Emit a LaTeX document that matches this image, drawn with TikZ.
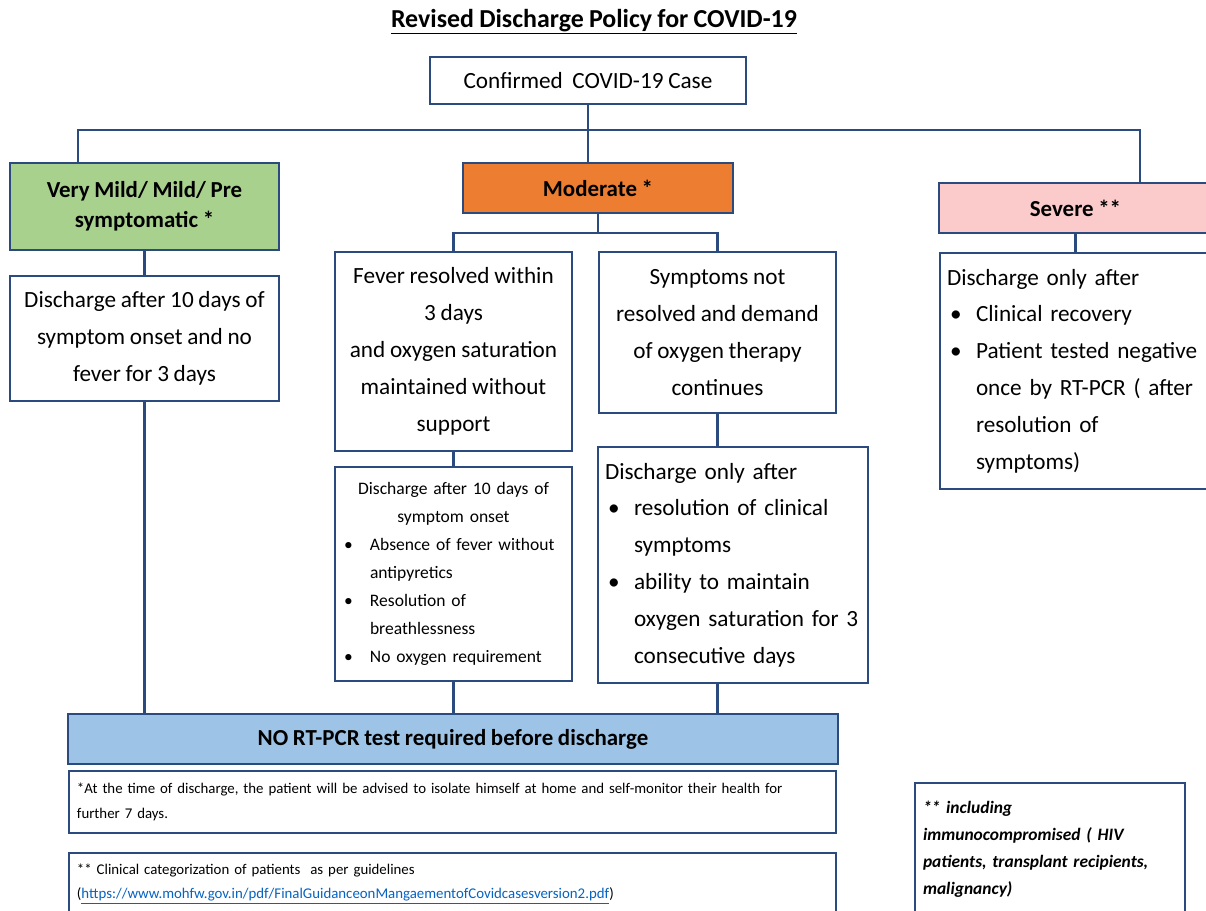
\documentclass[tikz,border=0pt]{standalone}
\usepackage{fontspec}
\setmainfont{Carlito}[WordSpace=0.9]
\definecolor{boxline}{HTML}{2B4A7E}
\definecolor{mildgreen}{HTML}{A9D18E}
\definecolor{modorange}{HTML}{ED7D31}
\definecolor{severepink}{HTML}{FBCACA}
\definecolor{testblue}{HTML}{9DC3E6}
\definecolor{linkblue}{HTML}{0563C1}
\newcommand{\bulitem}[1]{\par{\let\\\newline\hangindent=29bp\hangafter=1\noindent\makebox[29bp][l]{\hspace{3bp}\textbullet}#1\par}}
\begin{document}
\begin{tikzpicture}[x=1bp,y=-1bp,
    box/.style={draw=boxline, line width=2.6bp, fill=white, inner sep=0pt, align=center,
                font=\fontsize{23.3}{37}\selectfont},
    head/.style={box, font=\bfseries\fontsize{23}{30}\selectfont},
    listbox/.style={box, align=left, inner xsep=7bp},
    note/.style={box, align=left, inner xsep=8bp, text width=751bp,
                 font=\fontsize{14.9}{25}\selectfont},
    link/.style={draw=boxline, line width=2.6bp}]
    \useasboundingbox (0,0) rectangle (1206,911);
    \clip (0,0) rectangle (1206,911);
    \node [font=\bfseries\fontsize{26}{30}\selectfont] (title) at (594,22) {\underline{Revised Discharge Policy for COVID-19}};
    \node [box, minimum width=316bp, minimum height=47bp] (conf) at (588,80.5) {Confirmed\ \ COVID-19 Case};
    \node [head, fill=mildgreen, minimum width=269bp, minimum height=87bp] (mild) at (144.5,206.5) {Very Mild/ Mild/ Pre\\symptomatic *};
    \node [head, fill=modorange, minimum width=270bp, minimum height=50bp] (moderate) at (598,188) {Moderate *};
    \node [head, fill=severepink, minimum width=273bp, minimum height=50bp] (severe) at (1075.5,208) {Severe **};
    \node [box, minimum width=269bp, minimum height=125bp] (mildout) at (144.5,338.5) {Discharge after 10 days of\\symptom onset and no\\fever for 3 days};
    \node [box, minimum width=237bp, minimum height=199bp] (fever) at (453.5,351.5) {Fever resolved within\\3 days\\and oxygen saturation\\maintained without\\support};
    \node [box, minimum width=237bp, minimum height=161bp] (symp) at (717.5,332.5) {Symptoms not\\resolved and demand\\of oxygen therapy\\continues};
    \node [listbox, inner xsep=6bp, text width=225bp, minimum height=214bp, font=\fontsize{17.6}{28}\selectfont] (modout) at (453.5,574) {{\centering Discharge after 10 days of\\symptom onset\par}%
        \bulitem{Absence of fever without\\antipyretics}\bulitem{Resolution of\\breathlessness}\bulitem{No oxygen requirement}};
    \node [listbox, text width=256bp, minimum height=236bp] (sympout) at (733,565) {Discharge only after%
        \bulitem{resolution of clinical\\symptoms}\bulitem{ability to maintain\\oxygen saturation for~3\\consecutive days}};
    \node [listbox, text width=258bp, minimum height=236bp] (sevout) at (1076,371) {Discharge only after%
        \bulitem{Clinical recovery}\bulitem{Patient tested negative\\once by RT-PCR ( after\\resolution of\\symptoms)}};
    \node [head, fill=testblue, minimum width=770bp, minimum height=50bp] (nortpcr) at (453,739) {NO RT-PCR test required before discharge};
    \node [note, minimum height=62bp] (note1) at (452.5,802) {*At the time of discharge, the patient will be advised to isolate himself at home and self-monitor their health for\\further 7 days.};
    \node [note, minimum height=61bp] (note2) at (452.5,883.5) {** Clinical categorization of patients\ \ as per guidelines\\(\textcolor{linkblue}{\underline{https://www.mohfw.gov.in/pdf/FinalGuidanceonMangaementofCovidcasesversion2.pdf}})};
    \node [box, align=left, inner xsep=8bp, text width=254bp, minimum height=132bp, font=\bfseries\itshape\fontsize{17.5}{27}\selectfont] (immuno) at (1050,849) {** including\\immunocompromised ( HIV\\patients, transplant recipients,\\malignancy)};
    % tree connectors
    \coordinate (barL) at (78,130);
    \coordinate (barR) at (1140,130);
    \coordinate (split) at (598,233);
    \draw [link] (conf.south) -- (conf.south |- moderate.north);
    \draw [link] (barL |- mild.north) -- (barL) -- (barR) -- (barR |- severe.north);
    \draw [link] (moderate.south) -- (split);
    \draw [link] (fever.north) |- (split) -| (symp.north);
    \draw [link] (mild.south) -- (mildout.north);
    \draw [link] (mildout.south) -- (mildout.south |- nortpcr.north);
    \draw [link] (fever.south) -- (modout.north);
    \draw [link] (modout.south) -- (modout.south |- nortpcr.north);
    \draw [link] (symp.south) -- (symp.south |- sympout.north);
    \draw [link] (symp.south |- sympout.south) -- (symp.south |- nortpcr.north);
    \draw [link] (severe.south) -- (severe.south |- sevout.north);
\end{tikzpicture}
\end{document}
